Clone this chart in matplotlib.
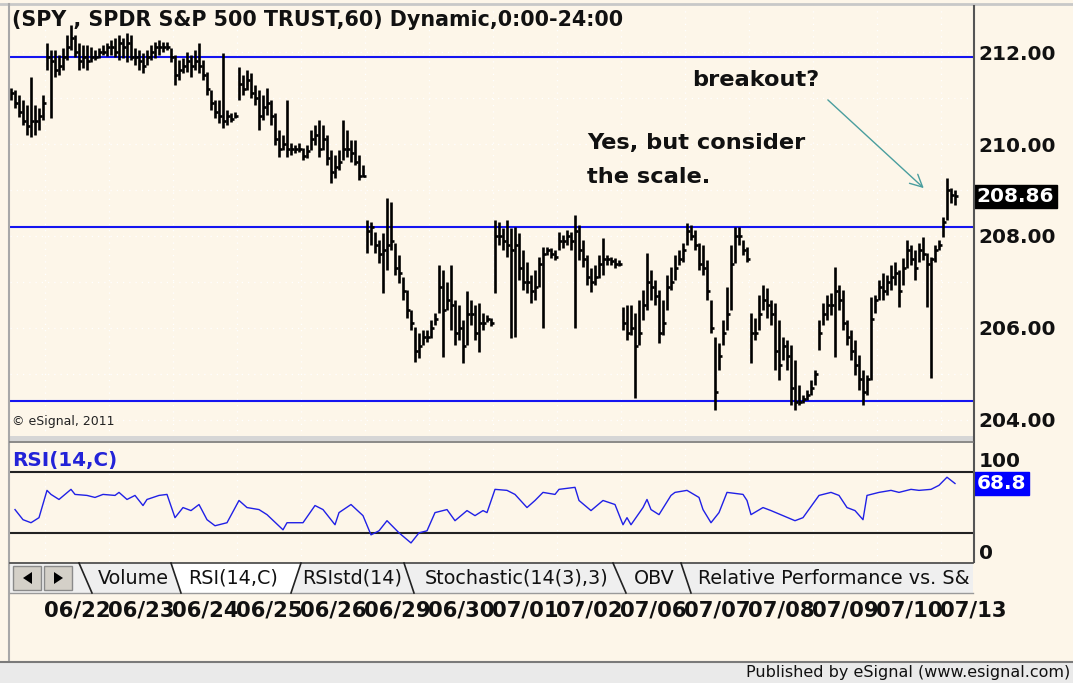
import numpy as np
import matplotlib
matplotlib.use("Agg")
import matplotlib.pyplot as plt
from matplotlib.transforms import blended_transform_factory, Bbox, TransformedBbox
from matplotlib.patches import Rectangle, Polygon

plt.rcParams['font.family'] = 'DejaVu Sans'

# ---- SPY hourly bars (06/19 tail .. 07/13) ----
highs = [
    211.22, 211.17, 211.07, 210.96, 210.85, 211.46, 210.85, 210.78, 211.07,
    # 06/22
    212.20, 212.04, 212.04, 211.93, 212.09, 212.37, 212.59, 212.37, 212.20, 212.15, 212.15, 212.11, 212.04, 212.09, 212.15, 212.20,
    # 06/23
    212.26, 212.30, 212.37, 212.30, 212.41, 212.37, 212.09, 212.04, 211.98, 212.04, 212.15, 212.22, 212.26, 212.22, 212.22, 212.09,
    # 06/24
    211.93, 211.83, 211.87, 212.00, 211.93, 212.04, 212.20, 211.83, 211.57, 211.17, 210.96, 210.96, 211.98, 210.74, 210.67, 210.70,
    # 06/25
    211.67, 211.50, 211.61, 211.54, 211.28, 211.17, 211.07, 211.22, 210.96, 210.67, 210.30, 210.20, 210.96, 210.02, 209.98, 210.02,
    # 06/26
    209.91, 209.98, 210.30, 210.41, 210.52, 210.41, 210.20, 209.87, 209.76, 209.87, 210.52, 210.30, 210.09, 210.09, 209.76, 209.54,
    # 06/29
    208.35, 208.30, 208.09, 207.91, 208.07, 208.83, 208.74, 207.85, 207.59, 207.11, 206.83, 206.39, 206.02, 205.89, 205.96, 205.96,
    # 06/30
    206.17, 206.33, 207.37, 207.26, 207.00, 207.37, 206.61, 206.50, 206.17, 206.80, 206.61, 206.50, 206.54, 206.33, 206.28, 206.22,
    # 07/01
    208.35, 208.30, 208.17, 208.35, 208.17, 208.20, 208.07, 207.70, 207.43, 207.15, 207.26, 207.54, 207.76, 207.76, 207.74, 207.70,
    # 07/02
    208.09, 208.02, 208.13, 208.09, 208.46, 208.24, 207.91, 207.59, 207.30, 207.37, 207.59, 207.96, 207.59, 207.54, 207.52, 207.48,
    # 07/06
    206.46, 206.50, 206.50, 206.33, 206.61, 206.83, 207.63, 207.26, 207.04, 206.83, 206.61, 207.15, 207.33, 207.59, 207.70, 207.85,
    # 07/07
    208.28, 208.24, 208.13, 207.85, 207.80, 207.48, 206.61, 205.80, 205.67, 206.17, 206.89, 207.80, 208.20, 208.20, 207.91, 207.76,
    # 07/08
    206.33, 206.22, 206.72, 206.93, 206.87, 206.61, 206.54, 206.17, 205.80, 205.74, 205.63, 205.30, 204.76, 204.54, 204.65, 204.87,
    # 07/09
    205.09, 206.17, 206.54, 206.72, 206.76, 207.33, 206.93, 206.83, 206.17, 205.96, 205.74, 205.41, 205.09, 204.98, 206.67, 206.72,
    # 07/10
    207.04, 207.20, 207.15, 207.37, 207.43, 207.26, 207.52, 207.91, 207.80, 207.70, 207.85, 207.98, 207.63, 207.54, 207.80, 207.91,
    # 07/13
    208.41, 209.26, 209.04, 209.00,
]
lows = [
    210.96, 210.78, 210.59, 210.41, 210.20, 210.15, 210.20, 210.30, 210.52,
    211.61, 210.57, 211.46, 211.50, 211.61, 211.83, 212.04, 211.89, 211.61, 211.65, 211.61, 211.78, 211.83, 211.87, 211.93, 211.91,
    211.93, 211.89, 211.83, 211.87, 211.78, 211.83, 211.72, 211.61, 211.54, 211.72, 211.83, 211.87, 211.93, 212.00, 212.04, 211.78,
    211.28, 211.39, 211.54, 211.57, 211.46, 211.61, 211.54, 211.39, 211.07, 210.74, 210.57, 210.46, 210.35, 210.41, 210.48, 210.57,
    210.96, 211.07, 211.17, 211.00, 210.85, 210.30, 210.52, 210.63, 210.41, 209.98, 209.72, 209.87, 209.72, 209.76, 209.80, 209.83,
    209.65, 209.70, 209.87, 209.98, 209.72, 209.87, 209.54, 209.15, 209.26, 209.43, 209.65, 209.72, 209.61, 209.54, 209.22, 209.28,
    207.63, 207.80, 207.63, 207.41, 206.76, 207.26, 207.70, 207.15, 206.98, 206.61, 206.22, 205.96, 205.26, 205.35, 205.63, 205.70,
    205.78, 206.07, 206.33, 205.37, 206.39, 205.96, 205.63, 205.74, 205.24, 205.63, 206.07, 205.74, 205.48, 205.96, 206.13, 206.04,
    206.76, 207.80, 207.70, 207.54, 205.78, 205.80, 207.04, 206.83, 206.76, 206.54, 206.61, 206.89, 206.00, 207.59, 207.52, 207.48,
    207.70, 207.74, 207.80, 207.70, 206.00, 207.48, 207.33, 206.93, 206.78, 206.93, 207.09, 207.15, 207.37, 207.37, 207.30, 207.35,
    205.96, 205.74, 205.85, 204.48, 205.63, 206.17, 206.39, 206.61, 206.50, 205.67, 205.85, 206.39, 206.83, 207.04, 207.37, 207.43,
    207.80, 207.91, 207.70, 207.26, 207.15, 206.61, 205.89, 204.22, 205.09, 205.63, 205.96, 206.40, 207.41, 207.80, 207.59, 207.43,
    205.24, 205.74, 205.96, 206.39, 206.22, 206.07, 205.09, 204.87, 205.30, 205.09, 204.33, 204.22, 204.33, 204.37, 204.43, 204.54,
    204.76, 205.52, 206.07, 206.17, 206.28, 205.37, 206.39, 205.96, 205.63, 205.30, 204.98, 204.65, 204.33, 204.54, 204.87, 206.33,
    206.61, 206.61, 206.72, 206.83, 206.93, 206.46, 206.93, 207.30, 207.37, 207.04, 207.43, 207.48, 206.46, 204.91, 207.43, 207.70,
    207.98, 208.35, 208.72, 208.67,
]
closes = [
    211.10, 210.90, 210.70, 210.50, 210.40, 210.50, 210.50, 210.60, 210.90,
    211.90, 211.80, 211.60, 211.70, 211.90, 212.10, 212.30, 212.00, 211.80, 211.90, 211.80, 211.90, 211.90, 212.00, 212.00, 212.10,
    212.10, 212.00, 212.20, 212.10, 212.20, 211.90, 211.90, 211.80, 211.70, 211.90, 212.00, 212.10, 212.10, 212.10, 212.10, 211.90,
    211.50, 211.60, 211.70, 211.80, 211.70, 211.80, 211.70, 211.50, 211.20, 210.90, 210.70, 210.60, 210.50, 210.60, 210.55, 210.60,
    211.30, 211.20, 211.40, 211.10, 211.00, 210.60, 210.80, 210.90, 210.60, 210.10, 209.90, 210.00, 209.90, 209.90, 209.90, 209.90,
    209.75, 209.85, 210.10, 210.20, 209.90, 210.10, 209.70, 209.40, 209.50, 209.60, 209.90, 209.90, 209.80, 209.60, 209.30, 209.30,
    208.10, 208.20, 207.80, 207.60, 207.70, 207.80, 207.90, 207.30, 207.20, 206.80, 206.40, 206.10, 205.50, 205.60, 205.80, 205.80,
    206.00, 206.20, 206.90, 206.40, 206.60, 206.50, 205.90, 206.00, 205.60, 206.30, 206.30, 205.90, 206.10, 206.10, 206.20, 206.10,
    208.00, 208.00, 207.90, 207.80, 207.70, 207.80, 207.30, 207.00, 207.00, 206.80, 206.90, 207.40, 207.60, 207.70, 207.60, 207.55,
    207.90, 207.90, 208.00, 207.90, 208.10, 207.70, 207.50, 207.10, 207.00, 207.10, 207.40, 207.50, 207.50, 207.45, 207.40, 207.40,
    206.10, 205.90, 206.00, 205.60, 205.90, 206.50, 207.00, 206.90, 206.70, 205.90, 206.10, 206.90, 207.00, 207.30, 207.50, 207.70,
    208.10, 208.00, 207.80, 207.40, 207.30, 206.80, 206.00, 204.60, 205.40, 205.90, 206.30, 207.40, 208.00, 208.00, 207.70, 207.50,
    205.90, 205.90, 206.30, 206.60, 206.50, 206.30, 205.50, 205.20, 205.60, 205.40, 204.70, 204.40, 204.40, 204.45, 204.55, 204.70,
    205.00, 205.90, 206.30, 206.50, 206.50, 206.80, 206.60, 206.10, 205.80, 205.50, 205.20, 204.90, 204.60, 204.90, 206.20, 206.60,
    206.90, 206.80, 207.00, 207.10, 207.20, 206.80, 207.30, 207.70, 207.50, 207.30, 207.70, 207.60, 207.40, 207.50, 207.70, 207.80,
    208.30, 209.00, 208.90, 208.86,
]
last_close = 208.86

# hand drawn horizontal trend lines
trend_levels = [211.89, 208.20, 204.41]

# RSI(14,C): bar number and value
rsi_bar = [1, 3, 5, 7, 9, 10, 12, 15, 16, 19, 21, 23, 26, 27, 29, 31, 33, 34, 37, 39,
           41, 43, 45, 47, 49, 51, 54, 57, 59, 62, 64, 68, 69, 73, 76, 78, 81, 82, 85, 88,
           90, 92, 94, 97, 100, 102, 104, 106, 109, 111, 114, 116, 118, 119, 121, 124, 126, 129, 131, 133,
           136, 137, 141, 142, 145, 148, 151, 153, 154, 155, 158, 159, 160, 162, 165, 166, 169, 172, 173, 175,
           177, 179, 183, 184, 185, 188, 190, 193, 196, 198, 202, 205, 207, 209, 211, 213, 214, 217, 220, 222,
           225, 227, 230, 232, 234, 236]
rsi_val = [43, 33, 30, 35, 62, 58, 53, 63, 58, 57, 55, 58, 57, 60, 53, 57, 47, 53, 57, 58,
           35, 45, 42, 48, 33, 27, 30, 52, 45, 43, 38, 23, 30, 30, 47, 43, 28, 40, 48, 37,
           18, 22, 32, 20, 10, 20, 22, 40, 43, 32, 42, 37, 42, 40, 63, 62, 58, 45, 52, 60,
           58, 63, 65, 52, 42, 52, 48, 28, 35, 28, 45, 53, 43, 38, 57, 60, 62, 55, 43, 30,
           40, 60, 58, 52, 38, 45, 42, 37, 32, 35, 57, 60, 57, 45, 42, 33, 57, 60, 62, 60,
           63, 62, 63, 67, 75, 68.8]
rsi_last = 68.8
rsi_levels = [80, 20]

dates = ['06/22', '06/23', '06/24', '06/25', '06/26', '06/29', '06/30', '07/01',
         '07/02', '07/06', '07/07', '07/08', '07/09', '07/10', '07/13']
bars_per_day = 16
first_day_start = 9

tabs = ['Volume', 'RSI(14,C)', 'RSIstd(14)', 'Stochastic(14(3),3)', 'OBV',
        'Relative Performance vs. S&']

CREAM = '#FDF6E9'
W, H = 1073, 683


def frac(x0, y0, x1, y1):
    return [x0 / W, 1 - y1 / H, (x1 - x0) / W, (y1 - y0) / H]


fig = plt.figure(figsize=(W / 100, H / 100), dpi=100, facecolor=CREAM)
ax_p = fig.add_axes(frac(10, 8, 973, 437), facecolor=CREAM)
ax_r = fig.add_axes(frac(10, 443, 973, 562), facecolor=CREAM)
over = fig.add_axes([0, 0, 1, 1])
over.set_xlim(0, W)
over.set_ylim(H, 0)
over.axis('off')

n = len(highs)
idx = np.arange(n)
xlim = (-0.25, 240.5)
day_edges = first_day_start - 0.5 + bars_per_day * np.arange(len(dates))

# ---- price panel ----
for lv in range(204, 213):
    ax_p.axhline(lv, color='white', lw=0.9, ls=(0, (1, 4)), zorder=0)
for d in day_edges:
    ax_p.axvline(d, color='white', lw=0.9, ls=(0, (1, 4)), zorder=0)
    ax_r.axvline(d, color='white', lw=0.9, ls=(0, (1, 4)), zorder=0)

for lv in trend_levels:
    ax_p.axhline(lv, color='#1414F0', lw=1.5, zorder=1)

ax_p.vlines(idx, lows, highs, color='black', lw=1.9, zorder=2)
ax_p.hlines(closes, idx, idx + 0.7, color='black', lw=1.9, zorder=2)

ax_p.set_xlim(*xlim)
ax_p.set_ylim(203.63, 212.957)
ax_p.set_xticks([])
ax_p.yaxis.tick_right()
ax_p.set_yticks([204, 206, 208, 210, 212])
ax_p.set_yticklabels(['%.2f' % v for v in [204, 206, 208, 210, 212]],
                     fontsize=14.5, fontweight='bold', color='#111111')
ax_p.tick_params(axis='y', length=0, pad=4)
for s in ax_p.spines.values():
    s.set_visible(False)

ax_p.text(0.002, 0.972, '(SPY , SPDR S&P 500 TRUST,60) Dynamic,0:00-24:00',
          transform=ax_p.transAxes, fontsize=14.9, fontweight='bold',
          color='#111111', va='center', ha='left')
ax_p.text(0.708, 0.832, 'breakout?', transform=ax_p.transAxes, fontsize=16.2,
          fontweight='bold', color='#111111', va='center')
ax_p.text(0.599, 0.685, 'Yes, but consider', transform=ax_p.transAxes, fontsize=16.2,
          fontweight='bold', color='#111111', va='center')
ax_p.text(0.599, 0.606, 'the scale.', transform=ax_p.transAxes, fontsize=16.2,
          fontweight='bold', color='#111111', va='center')
ax_p.text(0.002, 0.035, '\u00a9 eSignal, 2011', transform=ax_p.transAxes, fontsize=9,
          color='#222222', va='center')
ax_p.annotate('', xy=(228.7, 209.0), xytext=(203.7, 211.0),
              arrowprops=dict(arrowstyle='->', color='#4a9e9e', lw=1.0,
                              mutation_scale=22))

bp = blended_transform_factory(ax_p.transAxes, ax_p.transData)
ax_p.text(1.004, last_close, '%.2f' % last_close, transform=bp, fontsize=14.5,
          fontweight='bold', color='white', va='center', ha='left',
          bbox=dict(boxstyle='square,pad=0.12', fc='black', ec='black'), clip_on=False)

# ---- RSI panel ----
for lv in rsi_levels:
    ax_r.axhline(lv, color='#222222', lw=1.5, zorder=1)
ax_r.plot(rsi_bar, rsi_val, color='#2020E6', lw=1.0, zorder=2)
ax_r.set_xlim(*xlim)
ax_r.set_ylim(-8.85, 108.85)
ax_r.set_xticks([])
ax_r.yaxis.tick_right()
ax_r.set_yticks([100, 0])
ax_r.set_yticklabels(['100', '0'], fontsize=14.5, fontweight='bold', color='#111111')
ax_r.tick_params(axis='y', length=0, pad=4)
ylabs = ax_r.get_yticklabels()
ylabs[0].set_va('top')
ylabs[1].set_va('center')
for s in ax_r.spines.values():
    s.set_visible(False)
ax_r.text(0.002, 0.857, 'RSI(14,C)', transform=ax_r.transAxes, fontsize=14.3,
          fontweight='bold', color='#2323D8', va='center')
br = blended_transform_factory(ax_r.transAxes, ax_r.transData)
ax_r.text(1.004, rsi_last, '%.1f' % rsi_last, transform=br, fontsize=14.5,
          fontweight='bold', color='white', va='center', ha='left',
          bbox=dict(boxstyle='square,pad=0.12', fc='#0000FF', ec='#0000FF'), clip_on=False)

# date labels centred on each session
bd = blended_transform_factory(ax_r.transData, fig.transFigure)
for k, lab in enumerate(dates):
    xc = first_day_start - 0.5 + bars_per_day * k + bars_per_day / 2
    ax_r.text(xc, 1 - 610 / H, lab, transform=bd, fontsize=15.2, fontweight='bold',
              color='#111111', ha='center', va='center', clip_on=False)

# ---- window chrome ----
over.plot([0, W], [4, 4], color='#C8C8C8', lw=2)
over.plot([9, 9], [4, 661], color='#A8A8A8', lw=1.5)
over.plot([974, 974], [6, 562], color='#555555', lw=1.5)
over.add_patch(Rectangle((10, 436), 963, 5, fc='#D6D6D6', ec='none'))
over.plot([10, 973], [441.5, 441.5], color='#777777', lw=1.2)

# tab strip
over.add_patch(Rectangle((10, 563), 963, 30, fc='#EFEFEF', ec='none'))
over.plot([10, 973], [563, 563], color='#444444', lw=1.2)
over.plot([10, 973], [593, 593], color='#9A9A9A', lw=1.0)
over.add_patch(Polygon([(171, 563), (301, 563), (291, 594), (181, 594)],
                       closed=True, fc='white', ec='none'))
for xt, xb in [(79, 92), (171, 181), (301, 291), (404, 414), (613, 626), (681, 691)]:
    over.plot([xt, xb], [563, 593], color='#222222', lw=1.2)
for x0 in (13, 44):
    over.add_patch(Rectangle((x0, 566), 28, 24, fc='#D4D0C8', ec='#8A8A8A', lw=1))
over.add_patch(Polygon([(32, 572), (32, 584), (23, 578)], closed=True, fc='black'))
over.add_patch(Polygon([(54, 572), (54, 584), (63, 578)], closed=True, fc='black'))
tab_x = [133, 233, 352, 517, 654]
for lab, xc in zip(tabs[:5], tab_x):
    over.text(xc, 578, lab, fontsize=13.8, ha='center', va='center', color='#111111')
t = over.text(698, 578, tabs[5], fontsize=13.8, ha='left', va='center', color='#111111')
t.set_clip_box(TransformedBbox(Bbox([[690, 560], [972, 596]]), over.transData))
t.set_clip_on(True)

# footer
over.add_patch(Rectangle((0, 662), W, 21, fc='#EAEAEA', ec='none'))
over.plot([0, W], [661.5, 661.5], color='#7A7A7A', lw=1.5)
over.text(1070, 673, 'Published by eSignal (www.esignal.com)', fontsize=11.5,
          ha='right', va='center', color='#111111')

fig.savefig('out.png', dpi=100, facecolor=CREAM)
